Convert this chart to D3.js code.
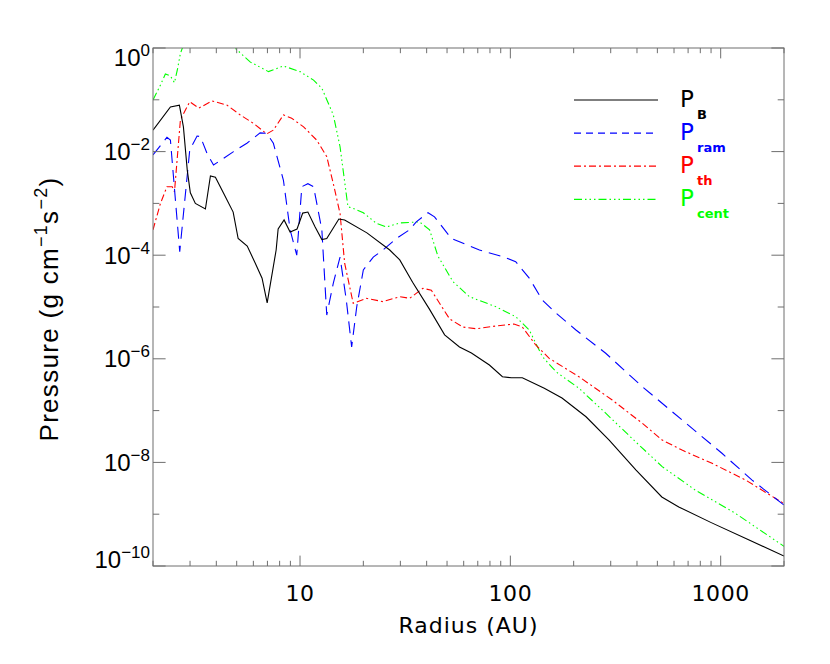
<!DOCTYPE html>
<html>
<head>
<meta charset="utf-8">
<script src="https://cdn.jsdelivr.net/npm/d3@7"></script>
<style>
  html, body { margin: 0; padding: 0; background: #fff; }
  svg { display: block; }
</style>
</head>
<body>
<svg id="chart" width="830" height="664"></svg>
<script>
// ---------------- data ----------------
const radiusB = [2.0, 2.42, 2.67, 2.79, 2.91, 3.01, 3.18, 3.55, 3.75, 3.96, 4.32, 4.81, 5.08, 5.61, 6.12, 6.60, 6.98, 7.70, 7.87, 8.40, 8.97, 9.68, 10.3, 10.9, 11.8, 12.7, 13.4, 15.3, 16.3, 20.8, 26.7, 29.8, 34.3, 41.3, 48.7, 57.3, 65.3, 79.5, 91.7, 101, 114, 145, 176, 229, 295, 396, 525, 632, 907, 1357, 2000];
const pressureB = [2.6e-2, 7.3e-2, 7.9e-2, 3.0e-2, 4.4e-3, 1.6e-3, 1.0e-3, 7.8e-4, 3.4e-3, 3.2e-3, 1.6e-3, 6.8e-4, 2.1e-4, 1.5e-4, 7.1e-5, 3.6e-5, 1.2e-5, 1.26e-4, 3.2e-4, 4.8e-4, 2.8e-4, 3.2e-4, 6.5e-4, 6.8e-4, 3.5e-4, 2.0e-4, 2.1e-4, 5.0e-4, 4.8e-4, 2.7e-4, 1.26e-4, 8.1e-5, 3.0e-5, 9.0e-6, 2.9e-6, 1.69e-6, 1.29e-6, 7.6e-7, 4.5e-7, 4.3e-7, 4.3e-7, 2.7e-7, 1.75e-7, 7.6e-8, 2.7e-8, 7.1e-9, 2.15e-9, 1.38e-9, 6.8e-10, 3.2e-10, 1.56e-10];

const radiusRam = [2.0, 2.33, 2.42, 2.68, 2.99, 3.24, 3.36, 3.61, 3.88, 4.83, 5.59, 6.46, 6.95, 7.47, 8.34, 8.97, 9.65, 10.2, 10.9, 11.6, 12.7, 13.4, 14.4, 15.5, 16.6, 17.6, 18.6, 20.0, 22.3, 24.8, 28.7, 33.2, 35.7, 40.6, 43.6, 52.4, 71.3, 91.9, 106, 123, 142, 165, 205, 284, 424, 655, 1014, 1406, 2000];
const pressureRam = [8.6e-3, 1.89e-2, 1.67e-2, 1.17e-4, 1.07e-2, 2.0e-2, 1.95e-2, 9.3e-3, 5.5e-3, 1.0e-2, 1.45e-2, 2.3e-2, 2.25e-2, 1.45e-2, 2.8e-3, 3.1e-4, 1.0e-4, 2.1e-3, 2.4e-3, 2.1e-3, 3.1e-4, 7.0e-6, 2.9e-5, 9.2e-5, 1.36e-5, 1.69e-6, 1.0e-5, 5.2e-5, 9.2e-5, 1.26e-4, 2.1e-4, 3.1e-4, 4.4e-4, 6.6e-4, 5.5e-4, 2.1e-4, 1.26e-4, 9.4e-5, 7.5e-5, 3.6e-5, 1.36e-5, 7.6e-6, 3.6e-6, 1.28e-6, 2.9e-7, 6.6e-8, 1.5e-8, 4.6e-9, 1.5e-9];

const radiusTh = [2.0, 2.17, 2.33, 2.47, 2.53, 2.70, 2.99, 3.30, 3.82, 4.49, 5.20, 6.01, 6.95, 7.47, 8.34, 9.13, 10.4, 12.0, 13.4, 14.4, 15.5, 16.3, 17.9, 20.7, 24.8, 29.8, 33.2, 38.4, 42.1, 51.4, 59.4, 68.8, 85.5, 104, 114, 132, 153, 212, 305, 424, 527, 655, 910, 1309, 2000];
const pressureTh = [3.1e-4, 1.0e-3, 2.1e-3, 2.1e-3, 1.68e-3, 4.1e-2, 9.2e-2, 6.9e-2, 9.5e-2, 7.9e-2, 5.1e-2, 3.5e-2, 2.2e-2, 2.6e-2, 5.1e-2, 4.4e-2, 3.0e-2, 1.67e-2, 8.0e-3, 2.4e-3, 6.4e-4, 7.0e-5, 1.18e-5, 1.47e-5, 1.27e-5, 1.58e-5, 1.47e-5, 2.3e-5, 2.1e-5, 5.9e-6, 4.1e-6, 3.8e-6, 4.3e-6, 4.7e-6, 4.1e-6, 1.85e-6, 1.02e-6, 4.5e-7, 1.6e-7, 5.7e-8, 2.7e-8, 1.73e-8, 9.6e-9, 4.6e-9, 1.6e-9];

const radiusCent = [2.0, 2.17, 2.29, 2.42, 2.53, 2.62, 2.70, 3.0, 4.0, 4.6, 4.92, 5.79, 7.08, 8.34, 10.0, 11.6, 12.7, 14.4, 15.5, 16.9, 17.9, 20.0, 23.1, 25.8, 29.8, 37.0, 41.3, 45.2, 53.3, 63.9, 85.5, 106, 123, 142, 165, 212, 284, 394, 527, 759, 1174, 2000];
const pressureCent = [9.9e-2, 0.193, 0.315, 0.288, 0.214, 0.406, 0.79, 2.5, 3.0, 1.5, 0.99, 0.54, 0.35, 0.45, 0.35, 0.24, 0.167, 5.1e-2, 1.24e-2, 8.6e-4, 8.0e-4, 6.6e-4, 4.1e-4, 3.5e-4, 4.2e-4, 4.4e-4, 3.1e-4, 9.7e-5, 3.1e-5, 1.58e-5, 1.01e-5, 6.5e-6, 3.6e-6, 1.1e-6, 5.6e-7, 2.7e-7, 8.9e-8, 2.5e-8, 8.3e-9, 2.9e-9, 1.04e-9, 2.4e-10];

const seriesNames = ["B", "ram", "th", "cent"];
const seriesColors = ["#000000", "#0000ff", "#ff0000", "#00ff00"];
const xTickLabels = ["10", "100", "1000"];
const yTickExponents = [0, -2, -4, -6, -8, -10];
const xDomain = [2, 2000];
const yDomain = [1, 1e-10];

// ---------------- layout ----------------
const mLeft = 153, mRight = 784, mTop = 48, mBottom = 566;
const svg = d3.select("#chart");

const x = d3.scaleLog().domain(xDomain).range([mLeft, mRight]);
const y = d3.scaleLog().domain(yDomain).range([mTop, mBottom]);

svg.append("defs").append("clipPath").attr("id", "plotclip")
  .append("rect").attr("x", mLeft).attr("y", mTop)
  .attr("width", mRight - mLeft).attr("height", mBottom - mTop);

// ---------------- series ----------------
const series = [
  { r: radiusB, p: pressureB, dash: null, legendDash: null },
  { r: radiusRam, p: pressureRam, dash: "12,7", legendDash: "7,5" },
  { r: radiusTh, p: pressureTh, dash: "7,3,2,3", legendDash: "7,3,2,3" },
  { r: radiusCent, p: pressureCent, dash: "8,3,1.5,3,1.5,3,1.5,3", legendDash: "8,3,1.5,3,1.5,3,1.5,3" }
];

const line = d3.line().x(d => x(d[0])).y(d => y(d[1])).curve(d3.curveLinear);
const gLines = svg.append("g").attr("clip-path", "url(#plotclip)");
[3, 2, 1, 0].forEach(i => {
  const s = series[i];
  gLines.append("path")
    .datum(d3.zip(s.r, s.p))
    .attr("d", line)
    .attr("fill", "none")
    .attr("stroke", seriesColors[i])
    .attr("stroke-width", 1.1)
    .attr("stroke-dasharray", s.dash);
});

// ---------------- axes frame & ticks ----------------
const axisColor = "#6e6e6e";
const gAxes = svg.append("g");
gAxes.append("rect").attr("x", mLeft).attr("y", mTop)
  .attr("width", mRight - mLeft).attr("height", mBottom - mTop)
  .attr("fill", "none").attr("stroke", axisColor).attr("stroke-width", 1);

const xMajorLen = 10.4, xMinorLen = 5.2;
x.ticks().forEach(t => {
  const lg = Math.log10(t);
  const major = Math.abs(lg - Math.round(lg)) < 1e-9;
  const len = major ? xMajorLen : xMinorLen;
  const px = x(t);
  gAxes.append("line").attr("x1", px).attr("x2", px).attr("y1", mBottom).attr("y2", mBottom - len)
    .attr("stroke", axisColor);
  gAxes.append("line").attr("x1", px).attr("x2", px).attr("y1", mTop).attr("y2", mTop + len)
    .attr("stroke", axisColor);
});

const yMajorLen = 12.6, yMinorLen = 6.3;
d3.range(0, -11, -1).forEach(e => {
  const major = (e % 2 === 0);
  const len = major ? yMajorLen : yMinorLen;
  const py = y(Math.pow(10, e));
  gAxes.append("line").attr("x1", mLeft).attr("x2", mLeft + len).attr("y1", py).attr("y2", py)
    .attr("stroke", axisColor);
  gAxes.append("line").attr("x1", mRight).attr("x2", mRight - len).attr("y1", py).attr("y2", py)
    .attr("stroke", axisColor);
});

// x tick labels
xTickLabels.forEach(lbl => {
  svg.append("text")
    .attr("x", x(+lbl)).attr("y", 601)
    .attr("text-anchor", "middle")
    .attr("font-family", "DejaVu Sans")
    .attr("font-size", 22)
    .attr("letter-spacing", 0.6)
    .attr("fill", "#000")
    .text(lbl);
});

// y tick labels
yTickExponents.forEach(e => {
  const py = y(Math.pow(10, e));
  const cy = Math.max(mTop + 9, Math.min(mBottom - 7, py));
  const t = svg.append("text")
    .attr("x", 150).attr("y", cy + 8.5)
    .attr("text-anchor", "end")
    .attr("font-family", "Liberation Sans")
    .attr("font-size", 24)
    .attr("fill", "#000");
  t.append("tspan").text("10");
  t.append("tspan").attr("font-size", 17).attr("dy", -10)
    .text(e === 0 ? "0" : "\u2212" + Math.abs(e));
});

// x title
svg.append("text")
  .attr("x", (mLeft + mRight) / 2).attr("y", 633)
  .attr("text-anchor", "middle")
  .attr("font-family", "DejaVu Sans")
  .attr("font-size", 22)
  .attr("letter-spacing", 1)
  .attr("fill", "#000")
  .text("Radius (AU)");

// y title
const yt = svg.append("text")
  .attr("transform", "translate(58," + ((mTop + mBottom) / 2 + 2) + ") rotate(-90)")
  .attr("text-anchor", "middle")
  .attr("font-family", "Liberation Sans")
  .attr("font-size", 26)
  .attr("letter-spacing", 1.3)
  .attr("fill", "#000");
yt.append("tspan").text("Pressure (g cm");
yt.append("tspan").attr("font-size", 18).attr("dy", -11).text("\u22121");
yt.append("tspan").attr("dy", 11).text("s");
yt.append("tspan").attr("font-size", 18).attr("dy", -11).text("\u22122");
yt.append("tspan").attr("dy", 11).text(")");

// ---------------- legend ----------------
const legendY0 = 100, legendStep = 33.1;
seriesNames.forEach((name, i) => {
  const ly = legendY0 + i * legendStep;
  svg.append("line")
    .attr("x1", 574).attr("x2", 658).attr("y1", ly).attr("y2", ly)
    .attr("stroke", seriesColors[i]).attr("stroke-width", 1.2)
    .attr("stroke-dasharray", series[i].legendDash);
  svg.append("text")
    .attr("x", 680).attr("y", ly + 7)
    .attr("font-family", "DejaVu Sans")
    .attr("font-size", 23)
    .attr("fill", seriesColors[i])
    .text("P");
  svg.append("text")
    .attr("x", 697).attr("y", ly + 19)
    .attr("font-family", "DejaVu Sans")
    .attr("font-weight", "bold")
    .attr("font-size", 13)
    .attr("fill", seriesColors[i])
    .text(name);
});
</script>
</body>
</html>
